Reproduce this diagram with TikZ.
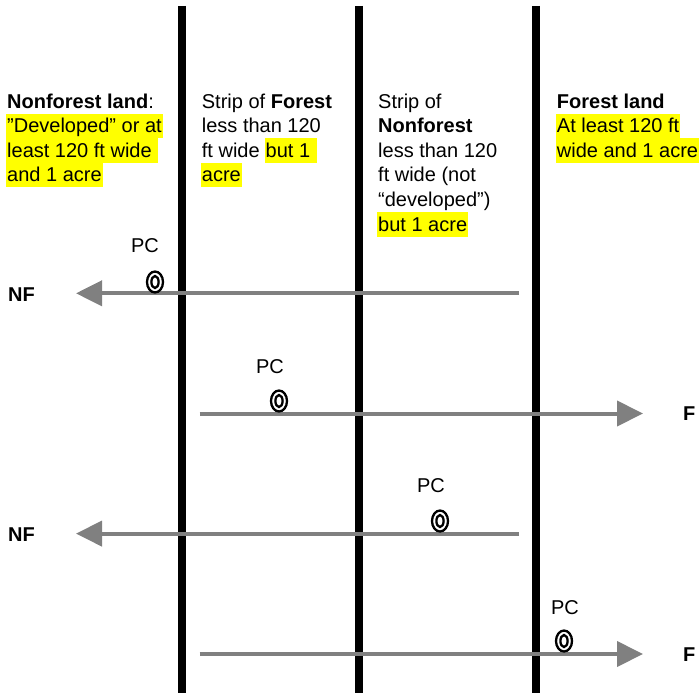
\documentclass[tikz,border=0pt]{standalone}
\usepackage{fontspec}
\setmainfont{Liberation Sans}
\usetikzlibrary{arrows.meta}
\definecolor{arrowgray}{RGB}{128,128,128}
\definecolor{hlyellow}{RGB}{255,255,0}
\begin{document}
\begin{tikzpicture}[x=1pt,y=-1pt,
  txt/.style={font=\fontsize{20}{24}\selectfont, inner sep=0pt, anchor=base west},
  hl/.style={txt, fill=hlyellow, text height=19pt, text depth=5.6pt, inner xsep=0.8pt, inner ysep=0pt},
  side/.style={font=\fontsize{20}{24}\selectfont\bfseries, inner sep=0pt, anchor=base west},
  divider/.style={line width=7.5pt, black},
  flow/.style={line width=4pt, arrowgray, -{Triangle[length=26pt,width=25pt]}},
  pcsym/.style={line width=2.3pt, black},
  pclabel/.style={font=\fontsize{20}{24}\selectfont, inner sep=0pt, anchor=base}
]
\useasboundingbox (0,0) rectangle (700,693);

% dividers
\draw[divider] (182,6) -- (182,693);
\draw[divider] (359,6) -- (359,693);
\draw[divider] (536,6) -- (536,693);

% column 1
\node[txt] (c1a) at (7,108) {\textbf{Nonforest land}:};
\node[hl] (c1b) at (6.2,132.6) {”Developed” or at};
\node[hl] (c1c) at (6.2,157.2) {least 120 ft wide\kern5.6pt};
\node[hl] (c1d) at (6.2,181.8) {and 1 acre};

% column 2
\node[txt] (c2a) at (201.7,108) {Strip of \textbf{Forest}};
\node[txt] (c2b) at (201.7,132.6) {less than 120};
\node[txt] (c2c) at (201.7,157.2) {ft wide};
\node[hl] (c2d) at ([xshift=4.8pt]c2c.base east) {but 1\kern5.6pt};
\node[hl] (c2e) at (200.9,181.8) {acre};

% column 3
\node[txt] (c3a) at (378,108) {Strip of};
\node[txt] (c3b) at (378,132.6) {\textbf{Nonforest}};
\node[txt] (c3c) at (378,157.2) {less than 120};
\node[txt] (c3d) at (378,181.8) {ft wide (not};
\node[txt] (c3e) at (378,206.4) {“developed”)};
\node[hl] (c3f) at (377.2,231) {but 1 acre};

% column 4
\node[txt] (c4a) at (556.7,108) {\textbf{Forest land}};
\node[hl] (c4b) at (555.9,132.6) {At least 120 ft};
\node[hl] (c4c) at (555.9,157.2) {wide and 1 acre};

% arrows
\coordinate (a1s) at (519,293.3);
\coordinate (a1t) at (76,293.3);
\coordinate (a2s) at (199.5,413.5);
\coordinate (a2t) at (643,413.5);
\coordinate (a3s) at (519,533.6);
\coordinate (a3t) at (76,533.6);
\coordinate (a4s) at (199.5,654);
\coordinate (a4t) at (643,654);
\draw[flow] (a1s) -- (a1t);
\draw[flow] (a2s) -- (a2t);
\draw[flow] (a3s) -- (a3t);
\draw[flow] (a4s) -- (a4t);

\node[side] (nf1) at (8,301.5) {NF};
\node[side] (f1) at (683,420.5) {F};
\node[side] (nf2) at (8,541) {NF};
\node[side] (f2) at (683,661) {F};

% PC labels
\node[pclabel] (pc1) at (145,252) {PC};
\node[pclabel] (pc2) at (270,373) {PC};
\node[pclabel] (pc3) at (431,492) {PC};
\node[pclabel] (pc4) at (565,614) {PC};

% PC symbols
\foreach \p in {(155,282),(279,401),(440,521),(564,641)}{
  \draw[pcsym] \p ellipse [x radius=8pt, y radius=10.5pt];
  \draw[pcsym] \p ellipse [x radius=3.6pt, y radius=6pt];
}
\end{tikzpicture}
\end{document}
